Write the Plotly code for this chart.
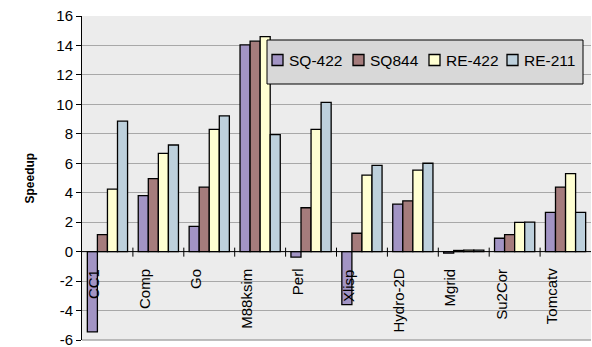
import plotly.graph_objects as go

# Benchmarks and per-configuration speedups
benchmarks = ["CC1", "Comp", "Go", "M88ksim", "Perl", "Xlisp",
              "Hydro-2D", "Mgrid", "Su2Cor", "Tomcatv"]
sq_422 = [-5.45, 3.8, 1.72, 14.04, -0.37, -3.6, 3.23, -0.1, 0.91, 2.67]
sq_844 = [1.16, 4.96, 4.38, 14.29, 2.98, 1.25, 3.45, 0.08, 1.16, 4.38]
re_422 = [4.24, 6.67, 8.3, 14.6, 8.3, 5.19, 5.53, 0.1, 1.99, 5.3]
re_211 = [8.86, 7.24, 9.22, 7.94, 10.14, 5.86, 6.0, 0.1, 2.0, 2.67]
y_ticks = list(range(-6, 17, 2))
y_tick_text = [str(v) for v in y_ticks]  # plain hyphen for negatives

series = [
    ("SQ-422", sq_422, "#a294c4"),
    ("SQ844", sq_844, "#a57c7c"),
    ("RE-422", re_422, "#ffffd2"),
    ("RE-211", re_211, "#bdd0dc"),
]

font = "Liberation Sans, Arial, sans-serif"
W, H = 592, 347
ML, MR, MT, MB = 82, 1, 16, 7
PW, PH = W - ML - MR, H - MT - MB


def px_x(p):
    return (p - ML) / PW


def px_y(p):
    return (H - MB - p) / PH


xs = list(range(len(benchmarks)))

fig = go.Figure()
for name, vals, color in series:
    fig.add_trace(go.Bar(
        x=xs, y=vals, name=name, showlegend=False,
        marker=dict(color=color, line=dict(color="black", width=1.3)),
    ))

# category labels hanging from the zero line
for i, b in enumerate(benchmarks):
    fig.add_annotation(
        x=i, y=0, xref="x", yref="y", text=b, showarrow=False,
        textangle=-90, yanchor="top", xanchor="center",
        xshift=-14, yshift=-15,
        font=dict(family=font, size=15, color="black"),
    )

# tick marks between categories, crossing the zero line
for i in range(len(benchmarks) - 1):
    fig.add_shape(
        type="line", xref="x", yref="y", x0=i + 0.5, x1=i + 0.5,
        ysizemode="pixel", yanchor=0, y0=-5, y1=4,
        line=dict(color="black", width=1),
    )

# zero line
fig.add_shape(type="line", xref="paper", yref="y", x0=0, x1=1, y0=0, y1=0,
              line=dict(color="black", width=1))

# bottom gridline at the range floor
fig.add_shape(type="line", xref="paper", yref="paper", x0=0, x1=1, y0=0, y1=0,
              line=dict(color="#a8a8a8", width=1.5))

# legend: frame, swatches and labels
fig.add_shape(type="rect", xref="paper", yref="paper",
              x0=px_x(267), x1=px_x(583), y0=px_y(84), y1=px_y(40),
              fillcolor="#d8d8d8", line=dict(color="black", width=1))
swatch_left = [272, 353, 429, 507]
for (name, _, color), sx in zip(series, swatch_left):
    fig.add_shape(type="rect", xref="paper", yref="paper",
                  x0=px_x(sx), x1=px_x(sx + 11), y0=px_y(65.5), y1=px_y(54.5),
                  fillcolor=color, line=dict(color="black", width=1.3))
    fig.add_annotation(x=px_x(sx + 15), y=px_y(60), xref="paper", yref="paper",
                       text=name, showarrow=False, xanchor="left",
                       yanchor="middle",
                       font=dict(family=font, size=15.5, color="black"))

# y-axis title
fig.add_annotation(x=px_x(20.5), y=px_y(178), xref="paper", yref="paper",
                   text="<b>Speedup</b>", showarrow=False, textangle=-90,
                   font=dict(family=font, size=12, color="black"))

fig.update_layout(
    width=W, height=H,
    margin=dict(l=ML, r=MR, t=MT, b=MB, autoexpand=False),
    paper_bgcolor="white",
    plot_bgcolor="#ececec",
    barmode="group",
    bargap=0.21,
    bargroupgap=0,
    font=dict(family=font, size=15, color="black"),
    showlegend=False,
    xaxis=dict(
        range=[-0.5, len(benchmarks) - 0.5], automargin=False,
        showticklabels=False, showgrid=False, zeroline=False,
        ticks="", showline=False,
    ),
    yaxis=dict(
        range=[-6, 16], tickvals=y_ticks, ticktext=y_tick_text,
        automargin=False, ticklabeloverflow="allow",
        showgrid=True, gridcolor="#a8a8a8", gridwidth=1.3,
        zeroline=False, showline=True, linecolor="black", linewidth=1,
        ticks="outside", ticklen=5, tickcolor="black",
        tickfont=dict(family=font, size=15),
    ),
)

fig.write_html("out.html")
